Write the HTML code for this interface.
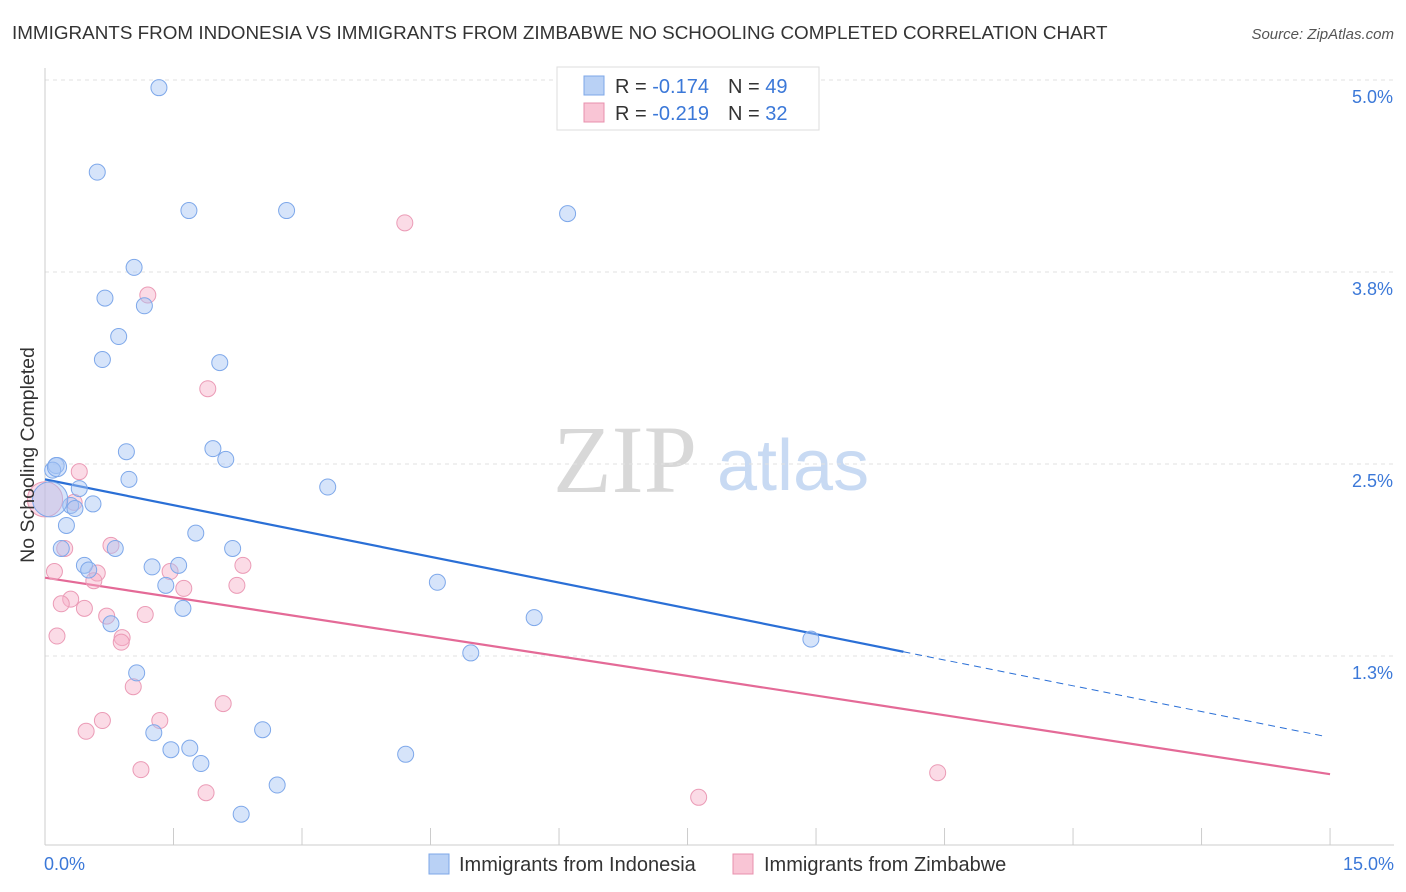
<!DOCTYPE html>
<html><head><meta charset="utf-8">
<style>
body{margin:0;background:#fff;font-family:"Liberation Sans",sans-serif;}
#wrap{position:relative;width:1406px;height:892px;overflow:hidden;}
</style></head>
<body>
<div id="wrap">
<svg id="chart" width="1406" height="892" xmlns="http://www.w3.org/2000/svg">
<text x="12" y="39" font-size="18.85" fill="#333">IMMIGRANTS FROM INDONESIA VS IMMIGRANTS FROM ZIMBABWE NO SCHOOLING COMPLETED CORRELATION CHART</text>
<text x="1394" y="39" font-size="15" fill="#555" font-style="italic" text-anchor="end">Source: ZipAtlas.com</text>
<g>
<text x="553" y="492" font-size="96" fill="#d8d8d8" font-family="Liberation Serif,serif">ZIP</text>
<text x="717" y="490" font-size="72" fill="#c8daf3">atlas</text>
</g>
<g id="grid"></g><g id="axes"></g><g id="lines"></g><g id="pts"></g>
<text x="34" y="455" font-size="19.5" fill="#333" text-anchor="middle" transform="rotate(-90 34 455)">No Schooling Completed</text>
<g>
<rect x="557" y="67" width="262" height="63" fill="#fff" stroke="#ddd"/>
<rect x="584" y="76" width="20" height="19" fill="#b9d1f5" stroke="#7da7e8"/>
<rect x="584" y="103" width="20" height="19" fill="#f9c5d5" stroke="#e890ad"/>
<text x="615" y="93" font-size="20" fill="#333">R = <tspan fill="#3b78d8">-0.174</tspan><tspan dx="19">N = </tspan><tspan fill="#3b78d8">49</tspan></text>
<text x="615" y="120" font-size="20" fill="#333">R = <tspan fill="#3b78d8">-0.219</tspan><tspan dx="19">N = </tspan><tspan fill="#3b78d8">32</tspan></text>
</g>
<g>
<rect x="429" y="854" width="20" height="20" fill="#b9d1f5" stroke="#7da7e8"/>
<text x="459" y="871" font-size="20" fill="#333">Immigrants from Indonesia</text>
<rect x="733" y="854" width="20" height="20" fill="#f9c5d5" stroke="#e890ad"/>
<text x="764" y="871" font-size="20" fill="#333">Immigrants from Zimbabwe</text>
</g>
</svg>
</div>
<script>
const yTicks=[5.0,3.75,2.5,1.25];
const yTickLabels=["5.0%","3.8%","2.5%","1.3%"];
const xTicks=[0,1.5,3,4.5,6,7.5,9,10.5,12,13.5,15];
const indonesiaX=[1.33,0.61,1.68,2.82,6.10,1.04,0.70,1.16,0.86,0.67,2.04,0.95,1.96,2.11,0.13,0.09,0.98,3.30,0.40,0.56,0.30,0.35,0.25,1.76,0.19,0.82,2.19,0.46,1.25,1.56,0.51,4.58,1.41,1.61,5.71,0.77,8.94,4.97,1.07,2.54,1.27,1.47,1.69,1.82,4.21,2.71,2.29,0.06,0.14];
const indonesiaY=[4.95,4.40,4.15,4.15,4.13,3.78,3.58,3.53,3.33,3.18,3.16,2.58,2.60,2.53,2.49,2.46,2.40,2.35,2.34,2.24,2.23,2.21,2.10,2.05,1.95,1.95,1.95,1.84,1.83,1.84,1.81,1.73,1.71,1.56,1.50,1.46,1.36,1.27,1.14,0.77,0.75,0.64,0.65,0.55,0.61,0.41,0.22,2.27,2.48];
const indonesiaSize=[1,1,1,1,1,1,1,1,1,1,1,1,1,1,1,1,1,1,1,1,1,1,1,1,1,1,1,1,1,1,1,1,1,1,1,1,1,1,1,1,1,1,1,1,1,1,1,2.2,1.2];
const zimbabweX=[4.20,1.20,1.90,0.40,0.34,0.23,0.77,0.11,1.46,2.31,0.61,0.57,1.62,2.24,0.30,0.19,0.46,0.72,1.17,0.14,0.90,0.89,1.03,2.08,0.67,1.34,0.48,1.12,1.88,10.42,7.63,0.0];
const zimbabweY=[4.07,3.60,2.99,2.45,2.25,1.95,1.97,1.80,1.80,1.84,1.79,1.74,1.69,1.71,1.62,1.59,1.56,1.51,1.52,1.38,1.37,1.34,1.05,0.94,0.83,0.83,0.76,0.51,0.36,0.49,0.33,2.27];
const zimbabweSize=[1,1,1,1,1,1,1,1,1,1,1,1,1,1,1,1,1,1,1,1,1,1,1,1,1,1,1,1,1,1,1,2.2];
const indonesiaTrend=[2.40,-0.112];
const zimbabweTrend=[1.76,-0.0853];
const NS="http://www.w3.org/2000/svg";
const xS=v=>45+v*85.67;
const yS=v=>80+(5-v)*153.6;
function mk(tag,attrs,parent){const e=document.createElementNS(NS,tag);for(const k in attrs)e.setAttribute(k,attrs[k]);document.getElementById(parent).appendChild(e);return e;}
yTicks.forEach((t,i)=>{
 const l=mk('line',{x1:45,x2:1394,y1:yS(t),y2:yS(t),stroke:'#e2e2e2','stroke-dasharray':'4,4'},'grid');
 
 
 const tx=mk('text',{x:1393,y:yS(t)+23,'font-size':18,fill:'#3b78d8','text-anchor':'end'},'axes');
 tx.textContent=yTickLabels[i];
 
 
});
const ya=mk('line',{x1:45,x2:45,y1:68,y2:845,stroke:'#ccc'},'axes');


const xa=mk('line',{x1:45,x2:1394,y1:845,y2:845,stroke:'#ccc'},'axes');


xTicks.forEach(t=>{
 const l=mk('line',{x1:xS(t),x2:xS(t),y1:828,y2:845,stroke:'#ccc'},'axes');
 
 
});
const xl0=mk('text',{x:44,y:870,'font-size':18,fill:'#3b78d8'},'axes');xl0.textContent='0.0%';


const xl1=mk('text',{x:1394,y:870,'font-size':18,fill:'#3b78d8','text-anchor':'end'},'axes');xl1.textContent='15.0%';


function pts(X,Y,S,fill,stroke,name){X.forEach((x,i)=>{
 const c=mk('circle',{cx:xS(x),cy:yS(Y[i]),r:8*S[i],fill:fill,stroke:stroke,'stroke-width':1},'pts');
 
 
});}
pts(zimbabweX,zimbabweY,zimbabweSize,'rgba(246,175,200,0.45)','#eb9bb6','zimbabwe-point');
pts(indonesiaX,indonesiaY,indonesiaSize,'rgba(164,196,244,0.45)','#7ea8ea','indonesia-point');
const t=indonesiaTrend;
const b1=mk('line',{x1:xS(0),y1:yS(t[0]),x2:xS(10.02),y2:yS(t[0]+t[1]*10.02),stroke:'#2a6fd6','stroke-width':2.2},'lines');


const b2=mk('line',{x1:xS(10.02),y1:yS(t[0]+t[1]*10.02),x2:xS(14.95),y2:yS(t[0]+t[1]*14.95),stroke:'#2a6fd6','stroke-width':1,'stroke-dasharray':'7,5'},'lines');


const z=zimbabweTrend;
const p1=mk('line',{x1:xS(0),y1:yS(z[0]),x2:xS(15),y2:yS(z[0]+z[1]*15),stroke:'#e46a97','stroke-width':2.2},'lines');


</script>
</body></html>
